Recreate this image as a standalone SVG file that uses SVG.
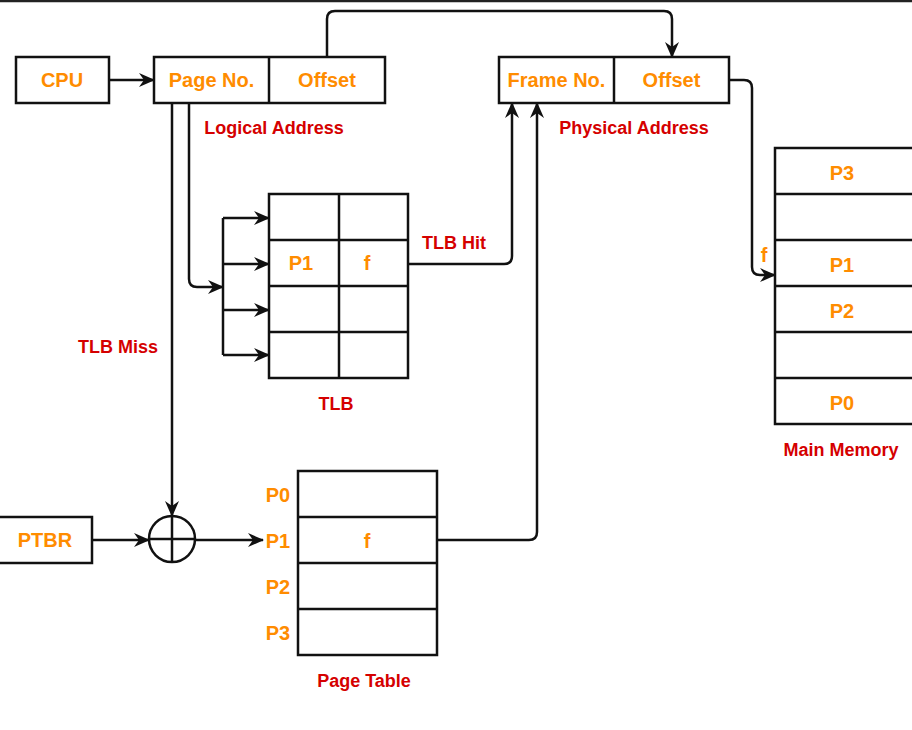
<svg xmlns="http://www.w3.org/2000/svg" width="912" height="730" viewBox="0 0 912 730">
<style>
.box{fill:#fff;stroke:#111;stroke-width:2.5}
.ln{fill:none;stroke:#111;stroke-width:2.5}
.or{font-family:"Liberation Sans",Arial,sans-serif;font-weight:bold;font-size:20px;fill:#FF8C00;text-anchor:middle}
.rd{font-family:"Liberation Sans",Arial,sans-serif;font-weight:bold;font-size:18px;fill:#D50000;text-anchor:middle}
.ar{fill:none;stroke:#111;stroke-width:2.5;marker-end:url(#arr)}
</style>
<defs>
<marker id="arr" viewBox="0 0 16 14" refX="15" refY="7" markerWidth="16" markerHeight="14" markerUnits="userSpaceOnUse" orient="auto">
<path d="M0,0 L16,7 L0,14 L5,7 z" fill="#111"/>
</marker>
</defs>
<rect width="912" height="730" fill="#fff"/>
<line x1="0" y1="1" x2="912" y2="1" stroke="#222" stroke-width="2.5"/>

<g id="connectors">
<path class="ar" d="M109,80 H154"/>
<path class="ar" d="M327,57 V19 Q327,11 335,11 H664 Q672,11 672,19 V57"/>
<path class="ar" d="M729,80 H744 Q752,80 752,88 V267 Q752,275 760,275 H775"/>
<path class="ar" d="M189,103 V279 Q189,287 197,287 H223"/>
<path class="ln" d="M223,218 V355"/>
<path class="ar" d="M223,218 H269"/>
<path class="ar" d="M223,264 H269"/>
<path class="ar" d="M223,310 H269"/>
<path class="ar" d="M223,355 H269"/>
<path class="ar" d="M172,103 V516"/>
<path class="ar" d="M408,264 H504 Q512,264 512,256 V103"/>
<path class="ar" d="M437,540 H529 Q537,540 537,532 V103"/>
<path class="ar" d="M92,540 H149"/>
<path class="ar" d="M195,540 H263"/>
<text class="rd" x="454" y="249">TLB Hit</text>
<text class="rd" x="118" y="353">TLB Miss</text>
<text class="or" x="764" y="262">f</text>
</g>

<g id="cpu">
<rect class="box" x="16" y="57" width="93" height="46"/>
<text class="or" x="62" y="87">CPU</text>
</g>

<g id="logical-address">
<rect class="box" x="154" y="57" width="231" height="46"/>
<line class="ln" x1="269" y1="57" x2="269" y2="103"/>
<text class="or" x="211.5" y="87">Page No.</text>
<text class="or" x="327" y="87">Offset</text>
<text class="rd" x="274" y="134">Logical Address</text>
</g>

<g id="physical-address">
<rect class="box" x="499" y="57" width="230" height="46"/>
<line class="ln" x1="614" y1="57" x2="614" y2="103"/>
<text class="or" x="556.5" y="87">Frame No.</text>
<text class="or" x="671.5" y="87">Offset</text>
<text class="rd" x="634" y="134">Physical Address</text>
</g>

<g id="tlb">
<rect class="box" x="269" y="194" width="139" height="184"/>
<line class="ln" x1="339" y1="194" x2="339" y2="378"/>
<line class="ln" x1="269" y1="240" x2="408" y2="240"/>
<line class="ln" x1="269" y1="286" x2="408" y2="286"/>
<line class="ln" x1="269" y1="332" x2="408" y2="332"/>
<text class="or" x="301" y="270">P1</text>
<text class="or" x="367" y="270">f</text>
<text class="rd" x="336" y="410">TLB</text>
</g>

<g id="adder">
<circle class="ln" cx="172" cy="539" r="23"/>
<line class="ln" x1="149" y1="539" x2="195" y2="539"/>
<line class="ln" x1="172" y1="516" x2="172" y2="562"/>
</g>

<g id="ptbr">
<rect class="box" x="-2" y="517" width="94" height="46"/>
<text class="or" x="45" y="547">PTBR</text>
</g>

<g id="page-table">
<rect class="box" x="298" y="471" width="139" height="184"/>
<line class="ln" x1="298" y1="517" x2="437" y2="517"/>
<line class="ln" x1="298" y1="563" x2="437" y2="563"/>
<line class="ln" x1="298" y1="609" x2="437" y2="609"/>
<text class="or" x="278" y="502">P0</text>
<text class="or" x="278" y="548">P1</text>
<text class="or" x="278" y="594">P2</text>
<text class="or" x="278" y="640">P3</text>
<text class="or" x="367" y="548">f</text>
<text class="rd" x="364" y="687">Page Table</text>
</g>

<g id="main-memory">
<rect class="box" x="775" y="148" width="145" height="276"/>
<line class="ln" x1="775" y1="194" x2="920" y2="194"/>
<line class="ln" x1="775" y1="240" x2="920" y2="240"/>
<line class="ln" x1="775" y1="286" x2="920" y2="286"/>
<line class="ln" x1="775" y1="332" x2="920" y2="332"/>
<line class="ln" x1="775" y1="378" x2="920" y2="378"/>
<text class="or" x="842" y="180">P3</text>
<text class="or" x="842" y="272">P1</text>
<text class="or" x="842" y="318">P2</text>
<text class="or" x="842" y="410">P0</text>
<text class="rd" x="841" y="456">Main Memory</text>
</g>
</svg>
